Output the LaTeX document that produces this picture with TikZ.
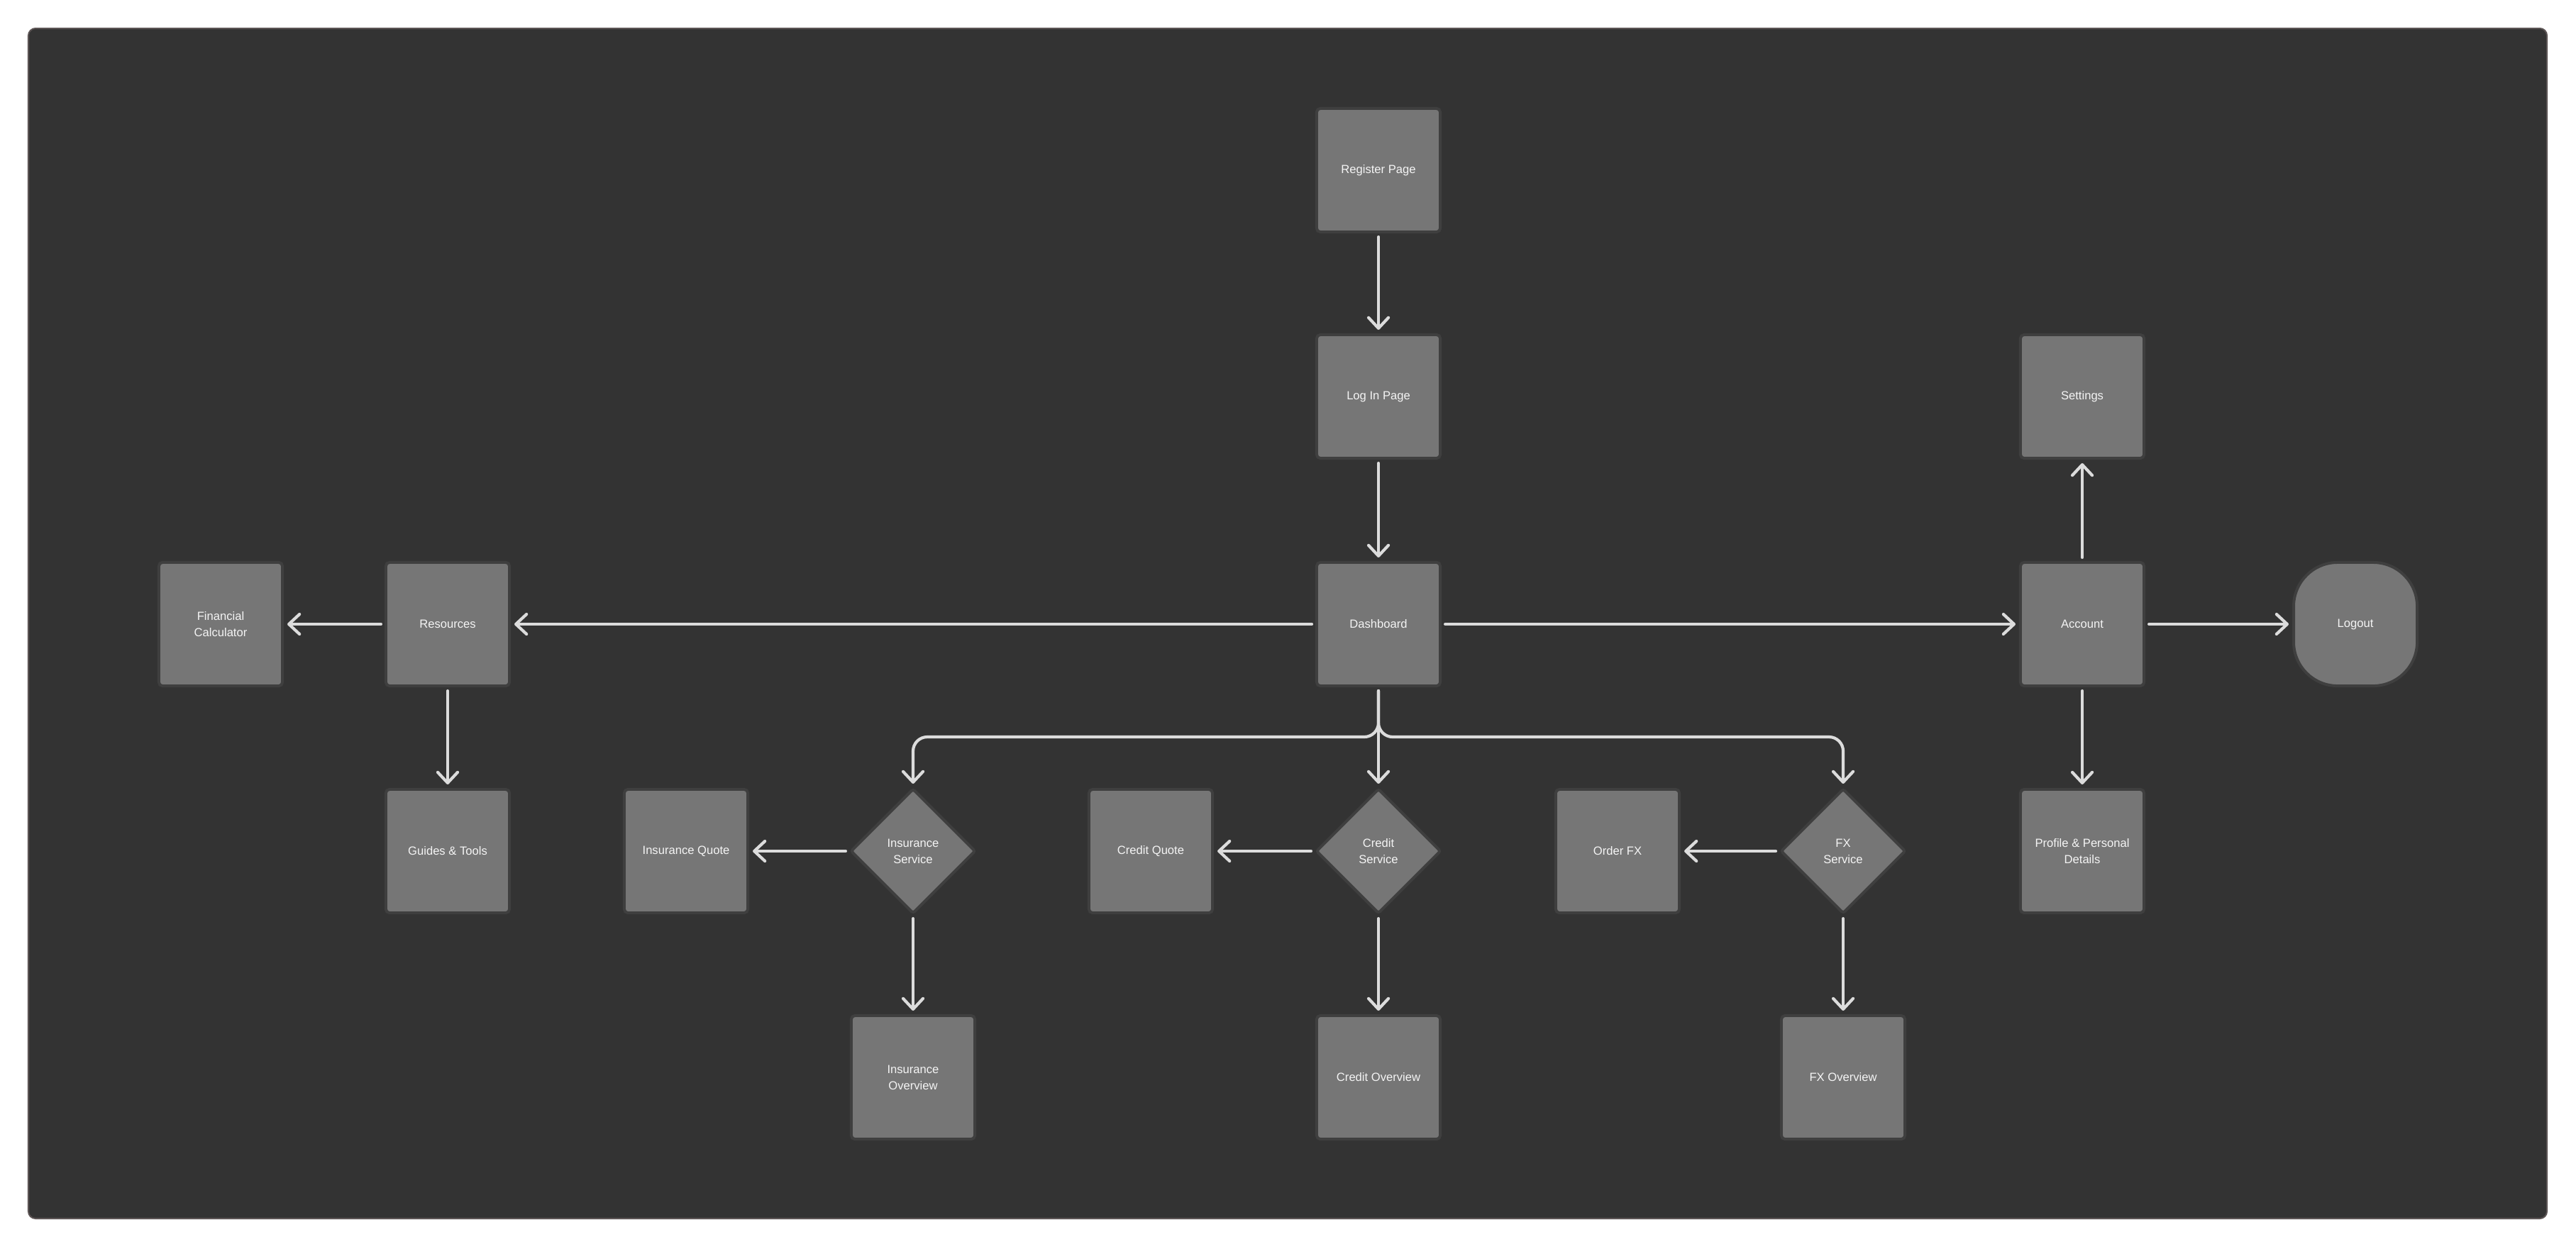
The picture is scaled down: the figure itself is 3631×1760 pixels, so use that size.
\documentclass[tikz,border=0pt]{standalone}
\usepackage{fontspec}
\setmainfont{Liberation Sans}
\usetikzlibrary{arrows.meta,shapes.geometric}
\definecolor{framebg}{HTML}{333333}
\definecolor{frameline}{HTML}{5C5454}
\definecolor{boxfill}{HTML}{767676}
\definecolor{boxline}{HTML}{3F3F3F}
\definecolor{arrowcol}{HTML}{DCDCDC}
\definecolor{txt}{HTML}{F4F4F4}
\tikzset{
  x=0.01cm, y=-0.01cm,
  base/.style={fill=boxfill, draw=boxline, line width=0.04cm, text=txt, align=center,
    font=\fontsize{4.72}{6.6}\selectfont, inner sep=0pt},
  box/.style={base, rectangle, minimum width=1.74cm, minimum height=1.74cm, rounded corners=0.05cm},
  pill/.style={base, rectangle, minimum width=1.74cm, minimum height=1.74cm, rounded corners=0.62cm},
  dia/.style={base, diamond, aspect=1, minimum width=1.76cm, minimum height=1.76cm, rounded corners=0.03cm},
  arr/.style={draw=arrowcol, line width=0.042cm, line cap=round, line join=round,
    -{Straight Barb[length=0.15cm,width=0.28cm,line cap=round,line join=round]},
    shorten <=0.05cm, shorten >=0.05cm},
}
\begin{document}
\begin{tikzpicture}
\useasboundingbox (0,0) rectangle (3631,1760);
\fill[white] (0,0) rectangle (3631,1760);
\draw[fill=framebg, draw=frameline, line width=0.02cm, rounded corners=0.1cm] (40,40) rectangle (3590,1718);

\node[box] (reg) at (1943,240) {Register Page};
\node[box] (login) at (1943,559) {Log In Page};
\node[box] (dash) at (1943,880) {Dashboard};
\node[box] (res) at (631,880) {Resources};
\node[box] (fin) at (311,880) {Financial\\Calculator};
\node[box] (guide) at (631,1200) {Guides \& Tools};
\node[box] (insq) at (967,1200) {Insurance Quote};
\node[dia] (inss) at (1287,1200) {Insurance\\Service};
\node[box] (inso) at (1287,1519) {Insurance\\Overview};
\node[box] (credq) at (1622,1200) {Credit Quote};
\node[dia] (creds) at (1943,1200) {Credit\\Service};
\node[box] (credo) at (1943,1519) {Credit Overview};
\node[box] (fxq) at (2280,1200) {Order FX};
\node[dia] (fxs) at (2598,1200) {FX\\Service};
\node[box] (fxo) at (2598,1519) {FX Overview};
\node[box] (set) at (2935,559) {Settings};
\node[box] (acc) at (2935,880) {Account};
\node[box] (prof) at (2935,1200) {Profile \& Personal\\Details};
\node[pill] (logout) at (3320,880) {Logout};

\coordinate (bar) at (1943,1039);

\draw[arr] (reg) -- (login);
\draw[arr] (login) -- (dash);
\draw[arr] (dash) -- (res);
\draw[arr] (res) -- (fin);
\draw[arr] (res) -- (guide);
\draw[arr] (dash) -- (acc);
\draw[arr] (acc) -- (set);
\draw[arr] (acc) -- (prof);
\draw[arr] (acc) -- (logout);
\draw[arr, rounded corners=0.2cm] (dash.south) |- (bar -| inss.north) -- (inss.north);
\draw[arr, rounded corners=0.2cm] (dash.south) |- (bar -| fxs.north) -- (fxs.north);
\draw[arr] (dash) -- (creds);
\draw[arr] (inss) -- (insq);
\draw[arr] (inss) -- (inso);
\draw[arr] (creds) -- (credq);
\draw[arr] (creds) -- (credo);
\draw[arr] (fxs) -- (fxq);
\draw[arr] (fxs) -- (fxo);
\end{tikzpicture}
\end{document}
